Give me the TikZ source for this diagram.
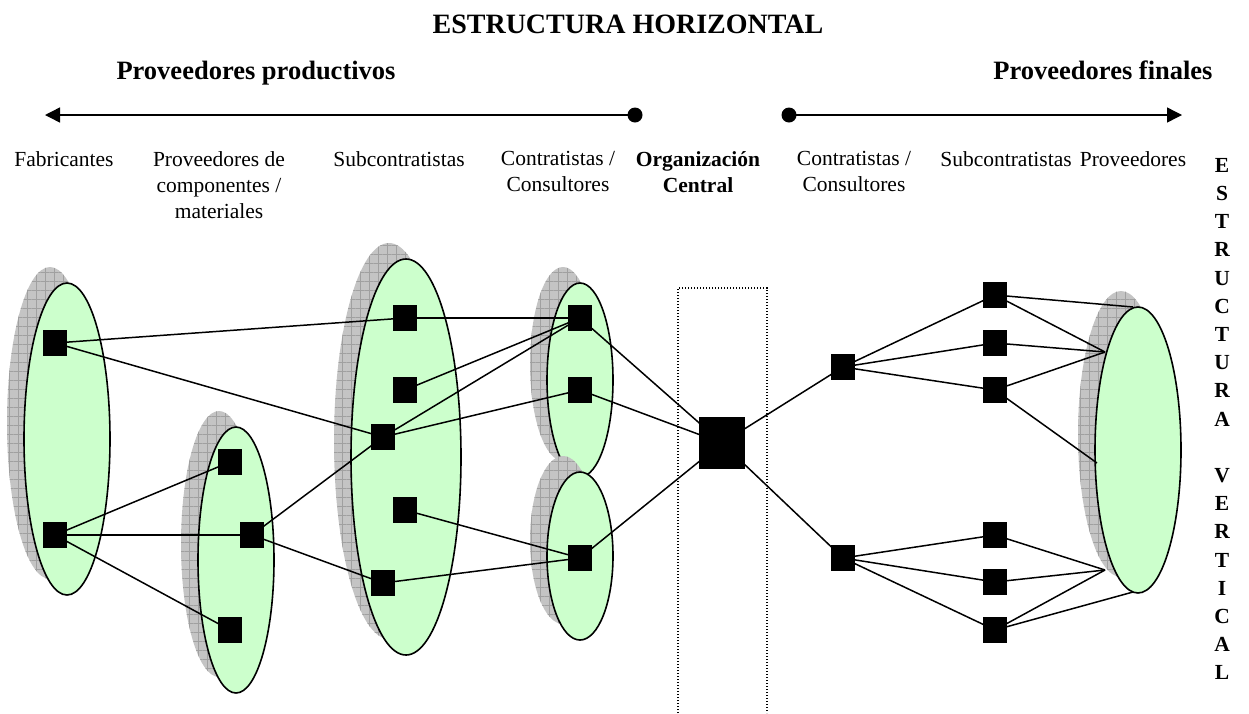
\documentclass[tikz,border=0pt]{standalone}
\usepackage{fontspec}
\setmainfont{Liberation Serif}
\usetikzlibrary{arrows.meta,patterns.meta}
\definecolor{lgreen}{HTML}{CCFFCC}
\definecolor{shgray}{HTML}{C4C4C4}
\definecolor{gridgray}{HTML}{A0A0A0}
\pgfdeclarelayer{shapes}
\pgfdeclarelayer{lines}
\pgfsetlayers{shapes,lines,main}
\begin{document}
\begin{tikzpicture}[x=1pt,y=-1pt,
  sq/.style={fill=black,minimum width=24pt,minimum height=26pt,inner sep=0pt,outer sep=0pt},
  bigsq/.style={fill=black,minimum width=46pt,minimum height=52pt,inner sep=0pt,outer sep=0pt},
  link/.style={line width=1.5pt},
  grp/.style={fill=lgreen,draw=black,line width=1.6pt},
  lbl/.style={font=\fontsize{21.5}{26}\selectfont,align=center,inner sep=0pt,anchor=north},
  blbl/.style={lbl,font=\fontsize{21.5}{26}\selectfont\bfseries},
  head/.style={font=\fontsize{26.5}{30}\selectfont\bfseries,inner sep=0pt,anchor=base},
  dotend/.style={circle,fill=black,minimum size=15pt,inner sep=0pt}
]
\useasboundingbox (0,0) rectangle (1249,713);
% shadowed ellipses
\newcommand{\shellipse}[4]{%
  \path[fill=shgray] (#1-17,#2-16) ellipse [x radius=#3 pt, y radius=#4 pt];
  \path[pattern={Lines[angle=0,distance=9pt,line width=0.5pt]},pattern color=gridgray] (#1-17,#2-16) ellipse [x radius=#3 pt, y radius=#4 pt];
  \path[pattern={Lines[angle=90,distance=9pt,line width=0.5pt]},pattern color=gridgray] (#1-17,#2-16) ellipse [x radius=#3 pt, y radius=#4 pt];
  \path[grp] (#1,#2) ellipse [x radius=#3 pt, y radius=#4 pt];}
\begin{pgfonlayer}{shapes}
\shellipse{67}{439}{43}{156}
\shellipse{236}{560}{38}{133}
\shellipse{406}{457}{55}{198}
\shellipse{580}{380}{33}{97}
\shellipse{580}{556}{33}{84}
\shellipse{1138}{450}{43}{143}
% dotted frame of central organisation
\draw[line width=1.3pt,dash pattern=on 1.3pt off 1.7pt] (678,713) -- (678,288) -- (767,288) -- (767,713);
\end{pgfonlayer}

% titles
\node[head,font=\fontsize{28}{34}\selectfont\bfseries] (title) at (628,33) {ESTRUCTURA HORIZONTAL};
\node[head] (hleft) at (256,79) {Proveedores productivos};
\node[head] (hright) at (1103,79) {Proveedores finales};

% top arrows
\node[dotend] (dl) at (635,115) {};
\node[dotend] (dr) at (789,115) {};
\coordinate (tipl) at (45,115);
\coordinate (tipr) at (1182,115);
\draw[line width=1.4pt,-{Triangle[length=15pt,width=15pt]}] (dl.center) -- (tipl);
\draw[line width=1.4pt,-{Triangle[length=15pt,width=15pt]}] (dr.center) -- (tipr);

% column labels
\node[lbl] (l1) at (64,151) {Fabricantes};
\node[lbl] (l2) at (219,151) {Proveedores de\\componentes /\\materiales};
\node[lbl] (l3) at (399,151) {Subcontratistas};
\node[lbl] (l4) at (558,151) {Contratistas /\\Consultores};
\node[blbl] (l5) at (698,151) {Organización\\Central};
\node[lbl] (l6) at (854,151) {Contratistas /\\Consultores};
\node[lbl] (l7) at (1006,151) {Subcontratistas};
\node[lbl] (l8) at (1133,151) {Proveedores};
\node[lbl,font=\fontsize{21.5}{28.2}\selectfont\bfseries] (vert) at (1222,158)
  {E\\S\\T\\R\\U\\C\\T\\U\\R\\A\\[28.2pt]V\\E\\R\\T\\I\\C\\A\\L};

% squares
\node[sq] (f1) at (55,343) {};
\node[sq] (f2) at (55,535) {};
\node[sq] (p1) at (230,462) {};
\node[sq] (p2) at (252,535) {};
\node[sq] (p3) at (230,630) {};
\node[sq] (s1) at (405,318) {};
\node[sq] (s2) at (405,390) {};
\node[sq] (s3) at (383,437) {};
\node[sq] (s4) at (405,510) {};
\node[sq] (s5) at (383,583) {};
\node[sq] (c1) at (580,318) {};
\node[sq] (c2) at (580,390) {};
\node[sq] (c3) at (580,558) {};
\node[bigsq] (org) at (722,443) {};
\node[sq] (r1) at (843,367) {};
\node[sq] (r2) at (843,558) {};
\node[sq] (t1) at (995,295) {};
\node[sq] (t2) at (995,343) {};
\node[sq] (t3) at (995,390) {};
\node[sq] (t4) at (995,535) {};
\node[sq] (t5) at (995,582) {};
\node[sq] (t6) at (995,630) {};
\coordinate (etop) at (1133,307);
\coordinate (eul) at (1105,352);
\coordinate (eml) at (1097,463);
\coordinate (ell) at (1105,570);
\coordinate (ebot) at (1133,592);

% connectors
\begin{pgfonlayer}{lines}
\draw[link] (f1.center) -- (s1.center);
\draw[link] (f1.center) -- (s3.center);
\draw[link] (f2.center) -- (p1.center);
\draw[link] (f2.center) -- (p2.center);
\draw[link] (f2.center) -- (p3.center);
\draw[link] (p2.center) -- (s3.center);
\draw[link] (p2.center) -- (s5.center);
\draw[link] (s1.center) -- (c1.center);
\draw[link] (s2.center) -- (c1.center);
\draw[link] (s3.center) -- (c1.center);
\draw[link] (s3.center) -- (c2.center);
\draw[link] (s4.center) -- (c3.center);
\draw[link] (s5.center) -- (c3.center);
\draw[link] (c1.center) -- (org.center);
\draw[link] (c2.center) -- (org.center);
\draw[link] (c3.center) -- (org.center);
\draw[link] (org.center) -- (r1.center);
\draw[link] (org.center) -- (r2.center);
\draw[link] (r1.center) -- (t1.center);
\draw[link] (r1.center) -- (t2.center);
\draw[link] (r1.center) -- (t3.center);
\draw[link] (r2.center) -- (t4.center);
\draw[link] (r2.center) -- (t5.center);
\draw[link] (r2.center) -- (t6.center);
\draw[link] (t1.center) -- (etop);
\draw[link] (t1.center) -- (eul);
\draw[link] (t2.center) -- (eul);
\draw[link] (t3.center) -- (eul);
\draw[link] (t3.center) -- (eml);
\draw[link] (t4.center) -- (ell);
\draw[link] (t5.center) -- (ell);
\draw[link] (t6.center) -- (ell);
\draw[link] (t6.center) -- (ebot);
\end{pgfonlayer}
\end{tikzpicture}
\end{document}
